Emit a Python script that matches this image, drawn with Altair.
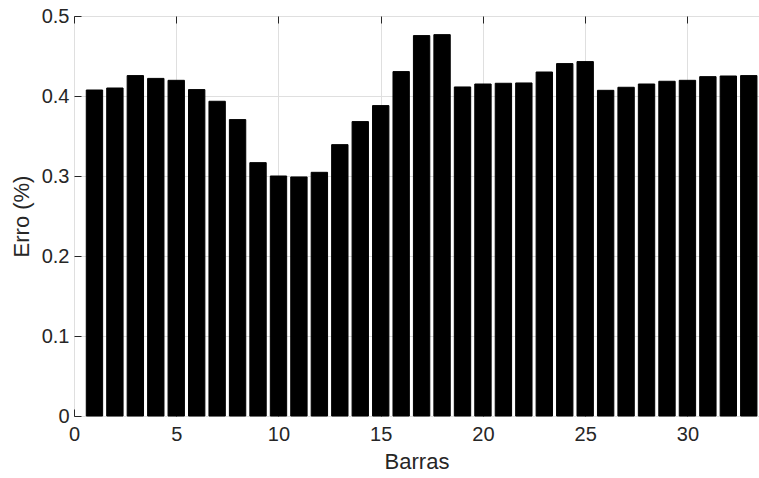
import altair as alt
import pandas as pd

# Data
barras = list(range(1, 34))
erro = [0.4075, 0.410, 0.4255, 0.422, 0.4196, 0.408, 0.3934, 0.3705, 0.3167,
        0.300, 0.2988, 0.3046, 0.3392, 0.368, 0.388, 0.4305, 0.4755, 0.4767,
        0.4113, 0.415, 0.4159, 0.4163, 0.430, 0.4405, 0.443, 0.4071, 0.4109,
        0.415, 0.4184, 0.4196, 0.4242, 0.425, 0.4255]
x_ticks = [0, 5, 10, 15, 20, 25, 30]
y_ticks = [0, 0.1, 0.2, 0.3, 0.4, 0.5]

df = pd.DataFrame({"barra": barras, "erro": erro})

FONT = "Liberation Sans"
DARK = "#262626"
GRID = "#dfdfdf"

xscale = alt.Scale(domain=[0, 33.5], nice=False, zero=False)
yscale = alt.Scale(domain=[0, 0.5], nice=False)

base = alt.Chart(df).transform_calculate(
    x0="datum.barra - 0.4", x1="datum.barra + 0.4"
)

bars = base.mark_bar(color="black", stroke="black", strokeWidth=1).encode(
    x=alt.X("x0:Q", scale=xscale,
            axis=alt.Axis(orient="bottom", values=x_ticks, format="d",
                          title="Barras", offset=-7, tickSize=7,
                          labelPadding=8, domain=False, grid=True,
                          gridColor=GRID, gridWidth=1, tickColor=DARK,
                          tickWidth=1, labelColor=DARK, labelFontSize=20,
                          labelFont=FONT, titleFont=FONT, titleFontSize=22,
                          titleFontWeight="normal", titleColor=DARK,
                          titlePadding=7, labelFlush=False)),
    x2="x1:Q",
    y=alt.Y("erro:Q", scale=yscale,
            axis=alt.Axis(orient="left", values=y_ticks, format=".1~f",
                          title="Erro (%)", offset=-7, tickSize=7,
                          labelPadding=5, domain=False, grid=True,
                          gridColor=GRID, gridWidth=1, tickColor=DARK,
                          tickWidth=1, labelColor=DARK, labelFontSize=20,
                          labelFont=FONT, titleFont=FONT, titleFontSize=22,
                          titleFontWeight="normal", titleColor=DARK,
                          titlePadding=8, labelFlush=False)),
    y2=alt.datum(0),
)

ghost = base.mark_bar(opacity=0).encode(
    x=alt.X("x0:Q", scale=xscale,
            axis=alt.Axis(orient="top", values=x_ticks, title=None,
                          offset=-7, tickSize=7, labels=False, domain=False,
                          grid=False, tickColor=DARK, tickWidth=1)),
    x2="x1:Q",
    y=alt.Y("erro:Q", scale=yscale, axis=None),
    y2=alt.datum(0),
)

chart = alt.layer(bars, ghost).resolve_axis(
    x="independent", y="independent"
).properties(
    width=685, height=400,
    autosize=alt.AutoSizeParams(type="none"),
    padding={"left": 74, "top": 16, "right": 0, "bottom": 62},
    background="white",
).configure_view(stroke=DARK, strokeWidth=1)

chart.save("out.html", embed_options={"renderer": "svg", "actions": False})
